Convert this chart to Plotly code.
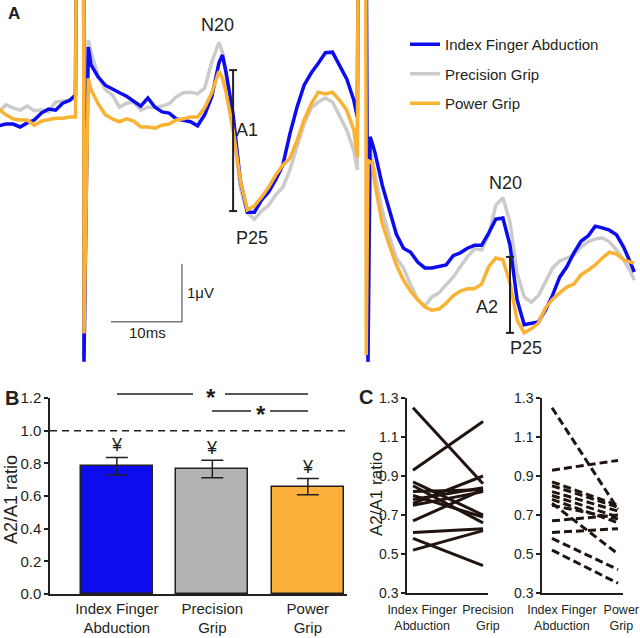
import plotly.graph_objects as go

# ---------------- panel A: averaged SEP traces (ms, uV) ----------------
t_ms = [-12, -11, -10, -9, -8, -7, -6, -5, -4, -3, -2, -1.2, -1.1, -0.05, 0, 0.6,
        1, 2, 3, 4, 5, 6, 7, 8, 9, 10, 11, 12, 13, 14, 15, 16, 17, 18, 19, 19.5,
        20, 21, 22, 23, 24, 25, 26, 27, 28, 29, 30, 31, 32, 33, 34, 35, 36, 37, 38,
        38.5, 38.6, 39.7, 39.75, 40, 40.3, 40.6,
        41, 42, 43, 44, 45, 46, 47, 48, 49, 50, 51, 52, 53, 54, 55, 56, 57, 58, 59,
        60, 61, 62, 63, 64, 65, 66, 67, 68, 69, 70, 71, 72, 73, 74, 75, 76, 77, 77.5]

sep_index = [-0.10, -0.07, -0.07, -0.12, -0.05, 0.00, 0.12, 0.19, 0.17, 0.29, 0.34, 0.43, 3.0, 3.0, -4.17, 1.26,
             0.95, 0.74, 0.60, 0.53, 0.47, 0.41, 0.33, 0.24, 0.38, 0.22, 0.14, 0.12, 0.02, 0.00, -0.03, -0.10, 0.09, 0.40, 0.98, 1.12,
             0.83, 0.09, -1.03, -1.59, -1.59, -1.38, -1.24, -1.03, -0.78, -0.24, 0.22, 0.60, 0.81, 0.98, 1.16, 1.17, 0.93, 0.71, 0.34,
             0.05, 3.0, 3.0, 3.0, -4.17, -0.29, -0.40,
             -0.57, -1.12, -1.55, -1.97, -2.21, -2.28, -2.45, -2.55, -2.55, -2.52, -2.50, -2.34, -2.29, -2.21, -2.16, -2.16, -1.95, -1.71, -1.69,
             -2.16, -3.10, -3.53, -3.50, -3.48, -3.28, -3.02, -2.71, -2.53, -2.29, -2.09, -2.00, -1.83, -1.86, -1.90, -1.98, -2.19, -2.47, -2.62]

sep_precision = [0.14, 0.26, 0.21, 0.17, 0.24, 0.16, 0.17, 0.14, 0.31, 0.33, 0.34, 0.38, 3.0, 3.0, -4.10, 1.38,
                 1.17, 0.76, 0.53, 0.43, 0.22, 0.29, 0.31, 0.17, 0.22, 0.22, 0.24, 0.28, 0.40, 0.47, 0.48, 0.45, 0.55, 1.00, 1.34, 1.17,
                 0.78, -0.14, -1.16, -1.60, -1.71, -1.57, -1.47, -1.29, -1.16, -0.86, -0.47, -0.07, 0.21, 0.31, 0.38, 0.31, 0.07, -0.17, -0.53,
                 -0.86, 3.0, 3.0, 3.0, -4.10, -0.52, -0.69,
                 -0.95, -1.55, -2.00, -2.38, -2.55, -2.84, -3.09, -3.21, -3.05, -2.98, -2.84, -2.71, -2.53, -2.36, -2.22, -2.24, -1.98, -1.47, -1.34,
                 -1.76, -2.64, -3.05, -3.14, -3.03, -2.79, -2.55, -2.43, -2.38, -2.33, -2.19, -2.10, -2.05, -2.03, -2.10, -2.24, -2.41, -2.62, -2.76]

sep_power = [0.19, 0.09, 0.02, 0.00, 0.00, -0.09, -0.02, 0.00, 0.03, 0.03, 0.05, 0.05, 3.0, 3.0, -3.68, 0.72,
             0.52, 0.28, 0.09, 0.02, -0.03, 0.02, -0.02, -0.12, -0.12, -0.14, -0.09, -0.07, 0.00, 0.02, 0.05, 0.05, 0.21, 0.47, 0.84, 0.72,
             0.48, -0.17, -1.03, -1.55, -1.48, -1.33, -1.16, -0.95, -0.78, -0.66, -0.36, 0.00, 0.28, 0.48, 0.45, 0.48, 0.34, 0.17, -0.17,
             -0.64, 3.0, 3.0, -4.05, -0.70, -0.72, -0.74,
             -1.12, -1.78, -2.16, -2.50, -2.76, -2.95, -3.10, -3.22, -3.28, -3.26, -3.16, -3.03, -2.95, -2.91, -2.91, -2.83, -2.53, -2.38, -2.41,
             -2.81, -3.45, -3.67, -3.60, -3.50, -3.24, -3.09, -2.98, -2.88, -2.83, -2.67, -2.59, -2.50, -2.38, -2.28, -2.31, -2.41, -2.45, -2.47]

# ---------------- panel B: group mean A2/A1 ratio ----------------
conditions = ["Index Finger<br>Abduction", "Precision<br>Grip", "Power<br>Grip"]
ratio_mean = [0.782, 0.765, 0.657]
ratio_sem = [0.054, 0.054, 0.050]

# ---------------- panel C: single subjects ----------------
ratio_index = [1.25, 0.93, 0.87, 0.85, 0.82, 0.80, 0.78, 0.76, 0.75, 0.67, 0.61, 0.58, 0.52]
ratio_precision = [0.86, 1.18, 0.70, 0.66, 0.83, 0.69, 0.84, 0.90, 0.82, 0.83, 0.63, 0.44, 0.62]
ratio_power = [0.73, 0.98, 0.75, 0.74, 0.72, 0.69, 0.66, 0.50, 0.68, 0.70, 0.63, 0.42, 0.35]

FONT = "Arial, Liberation Sans, sans-serif"
INK = "#231f20"
BLUE, GREY, ORANGE = "#0c0cee", "#cbcbcb", "#f9b233"

W, H = 640, 638


def px(x):
    return x / W


def py(y):
    return 1 - y / H


fig = go.Figure()

# panel A traces (grey below, orange on top)
for name, vals, col, rank in [("Precision Grip", sep_precision, GREY, 2),
                              ("Index Finger Abduction", sep_index, BLUE, 1),
                              ("Power Grip", sep_power, ORANGE, 3)]:
    fig.add_trace(go.Scatter(x=t_ms, y=vals, mode="lines", name=name,
                             line=dict(color=col, width=3.5), legendrank=rank,
                             legendgroup=name, xaxis="x", yaxis="y"))

# panel B bars
fig.add_trace(go.Bar(
    x=[0, 1, 2], y=ratio_mean, width=0.756,
    marker=dict(color=[BLUE, "#b3b3b3", "#fbb03b"], line=dict(color=INK, width=1.5)),
    error_y=dict(type="data", array=ratio_sem, color=INK, thickness=1.5, width=11),
    showlegend=False, xaxis="x2", yaxis="y2"))

# panel C paired lines
def paired(a, b):
    xs, ys = [], []
    for v0, v1 in zip(a, b):
        xs += [0, 1, None]
        ys += [v0, v1, None]
    return xs, ys

xs, ys = paired(ratio_index, ratio_precision)
fig.add_trace(go.Scatter(x=xs, y=ys, mode="lines", line=dict(color="#21140f", width=3),
                         showlegend=False, xaxis="x3", yaxis="y3"))
xs, ys = paired(ratio_index, ratio_power)
fig.add_trace(go.Scatter(x=xs, y=ys, mode="lines", line=dict(color="#21140f", width=3, dash="8px,4px"),
                         showlegend=False, xaxis="x4", yaxis="y4"))

ax_common = dict(showgrid=False, zeroline=False, showline=True, linecolor=INK, linewidth=1.5,
                 tickfont=dict(family=FONT, size=15, color=INK), fixedrange=True, automargin=False)
c_yticks = dict(family=FONT, size=14, color=INK)
c_xticks = dict(family=FONT, size=12.5, color=INK)

fig.update_layout(
    template="none",
    width=W, height=H, margin=dict(l=0, r=0, t=0, b=0, autoexpand=False),
    plot_bgcolor="white", paper_bgcolor="white",
    font=dict(family=FONT, color=INK),
    bargap=0,
    xaxis=dict(domain=[0, 1], range=[-11.83, 78.31], visible=False, automargin=False),
    yaxis=dict(domain=[py(365), 1], range=[-4.224, 2.069], visible=False, anchor="x", automargin=False),
    xaxis2=dict(domain=[px(50), px(347)], range=[-0.70, 2.41], anchor="y2", ticks="",
                tickvals=[0, 1, 2], ticktext=conditions, **ax_common),
    yaxis2=dict(domain=[py(594), py(398)], range=[0, 1.2], anchor="x2", ticks="outside",
                ticklen=4, tickwidth=1.5, tickcolor=INK, tickvals=[0, 0.2, 0.4, 0.6, 0.8, 1.0, 1.2],
                tickformat=".1f", **ax_common),
    xaxis3=dict(domain=[px(407), px(488)], range=[-0.086, 1.071], anchor="y3", ticks="",
                tickvals=[0.13, 1.07], ticktext=["Index Finger<br>Abduction", "Precision<br>Grip"],
                ticklabelstandoff=4, **{**ax_common, "tickfont": c_xticks}),
    yaxis3=dict(domain=[py(593), py(398)], range=[0.3, 1.3], anchor="x3", ticks="outside",
                ticklen=4, tickwidth=1.5, tickcolor=INK, tickvals=[0.3, 0.5, 0.7, 0.9, 1.1, 1.3],
                tickformat=".1f", **{**ax_common, "tickfont": c_yticks}),
    xaxis4=dict(domain=[px(542), px(623)], range=[-0.152, 1.076], anchor="y4", ticks="",
                tickvals=[0.15, 1.05], ticktext=["Index Finger<br>Abduction", "Power<br>Grip"],
                ticklabelstandoff=4, **{**ax_common, "tickfont": c_xticks}),
    yaxis4=dict(domain=[py(593), py(398)], range=[0.3, 1.3], anchor="x4", ticks="outside",
                ticklen=4, tickwidth=1.5, tickcolor=INK, tickvals=[0.3, 0.5, 0.7, 0.9, 1.1, 1.3],
                tickformat=".1f", **{**ax_common, "tickfont": c_yticks}),
    showlegend=True,
    legend=dict(x=px(405), y=py(28), xanchor="left", yanchor="top", font=dict(size=15, color=INK),
                bgcolor="rgba(0,0,0,0)", tracegroupgap=7, itemwidth=30),
)

shapes = []
# scale bar: 10 ms x 1 uV
shapes.append(dict(type="line", xref="x", yref="y", x0=3.8, x1=13.8, y0=-3.48, y1=-3.48, line=dict(color="#333", width=1)))
shapes.append(dict(type="line", xref="x", yref="y", x0=13.8, x1=13.8, y0=-3.48, y1=-2.48, line=dict(color="#333", width=1)))
# A1 / A2 amplitude markers
for tx, top, bot in [(21.0, 0.86, -1.57), (60.0, -2.36, -3.67)]:
    shapes.append(dict(type="line", xref="x", yref="y", x0=tx, x1=tx, y0=bot, y1=top, line=dict(color=INK, width=2)))
    for yy in (top, bot):
        shapes.append(dict(type="line", xref="x", yref="y", x0=tx - 0.56, x1=tx + 0.56, y0=yy, y1=yy,
                           line=dict(color=INK, width=2)))
# dashed 1.0 line in B
shapes.append(dict(type="line", xref="x2 domain", yref="y2", x0=0, x1=1.005, y0=1.0, y1=1.0,
                   line=dict(color=INK, width=1.5, dash="7px,5px")))
# significance lines
for x0, x1, yy in [(117, 193, 394), (225, 308, 394), (212, 251, 411), (270, 308, 411)]:
    shapes.append(dict(type="line", xref="paper", yref="paper", x0=px(x0), x1=px(x1), y0=py(yy), y1=py(yy),
                       line=dict(color=INK, width=1.5)))
fig.update_layout(shapes=shapes)

ann = []
def txt(text, x, y, size, xref="x", yref="y", bold=False, xanchor="center", angle=0):
    ann.append(dict(text=f"<b>{text}</b>" if bold else text, x=x, y=y, xref=xref, yref=yref,
                    showarrow=False, xanchor=xanchor, yanchor="middle", textangle=angle,
                    font=dict(family=FONT, size=size, color=INK)))

txt("A", px(14), py(13), 17, "paper", "paper", bold=True)
txt("B", px(12), py(398), 20, "paper", "paper", bold=True)
txt("C", px(366), py(397), 20, "paper", "paper", bold=True)
txt("N20", 18.87, 1.64, 18)
txt("A1", 23.0, -0.17, 18)
txt("P25", 23.66, -2.03, 18)
txt("N20", 59.3, -1.09, 18)
txt("A2", 56.76, -3.22, 18)
txt("P25", 62.25, -3.93, 18)
txt("1μV", 14.2, -2.98, 15, xanchor="left")
txt("10ms", 9.0, -3.67, 15)
txt("A2/A1 ratio", px(11), py(500), 18, "paper", "paper", angle=-90)
txt("A2/A1 ratio", px(376), py(494), 17, "paper", "paper", angle=-90)
txt("*", px(211), py(397), 24, "paper", "paper", bold=True)
txt("*", px(261), py(414), 24, "paper", "paper", bold=True)
for i, (m, s) in enumerate(zip(ratio_mean, ratio_sem)):
    ann.append(dict(text="¥", x=i, y=m + s, xref="x2", yref="y2", showarrow=False,
                    yanchor="bottom", yshift=0, font=dict(family=FONT, size=18, color=INK)))
fig.update_layout(annotations=ann)

fig.write_html("out.html", config={"displayModeBar": False},
               post_script="document.body.style.margin='0';document.body.style.padding='0';")
